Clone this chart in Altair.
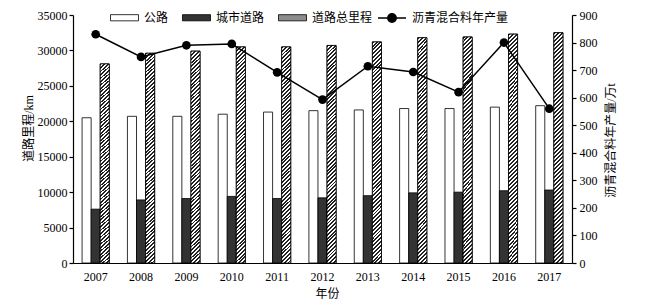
import altair as alt
import pandas as pd

years = [2007, 2008, 2009, 2010, 2011, 2012, 2013, 2014, 2015, 2016, 2017]
series = ["公路", "城市道路", "道路总里程"]
highway = [20500, 20700, 20700, 21000, 21300, 21500, 21600, 21800, 21800, 22000, 22200]
urban = [7600, 8900, 9100, 9400, 9100, 9200, 9500, 9900, 10000, 10200, 10300]
total = [28100, 29600, 29900, 30500, 30500, 30700, 31200, 31800, 31900, 32300, 32500]
line_name = "沥青混合料年产量"
asphalt = [830, 748, 790, 795, 692, 593, 714, 693, 620, 800, 560]

rows = []
for name, vals in zip(series, [highway, urban, total]):
    for y, v in zip(years, vals):
        rows.append({"year": y, "series": name, "value": v})
bars_df = pd.DataFrame(rows)
line_df = pd.DataFrame({"year": years, "value": asphalt, "name": line_name})

FONT = "Liberation Serif, Noto Sans CJK SC"

# diagonal hatch as a striped linear gradient (style only)
n_stripes = 60
stops = []
for i in range(n_stripes):
    a = i / n_stripes
    b = (i + 0.5) / n_stripes
    c = (i + 1) / n_stripes
    stops += [
        {"offset": a, "color": "#222222"},
        {"offset": b, "color": "#222222"},
        {"offset": b, "color": "#ffffff"},
        {"offset": c, "color": "#ffffff"},
    ]
hatch_fill = {"gradient": "linear", "x1": 0, "y1": 0, "x2": 0.043, "y2": 1.04, "stops": stops}

x_enc = alt.X(
    "year:O",
    scale=alt.Scale(paddingInner=0.4, paddingOuter=0.2),
    axis=alt.Axis(title="年份", labelAngle=0, ticks=False, tickSize=0, labelPadding=8,
                  titleX=254, titleY=30, titleBaseline="middle", titleAlign="center"),
)
xoff = alt.XOffset("series:N", scale=alt.Scale(domain=series), sort=series)
y_left = alt.Y(
    "value:Q",
    scale=alt.Scale(domain=[0, 35000], nice=False),
    axis=alt.Axis(values=list(range(0, 35001, 5000)), format="d", title="道路里程/km",
                  titleX=-45, titleY=113, titleAngle=270, titleBaseline="middle", titleAlign="center"),
)

bars = alt.Chart(bars_df).mark_bar(stroke="black", strokeWidth=0.8).encode(
    x=x_enc,
    xOffset=xoff,
    y=y_left,
    fill=alt.Fill(
        "series:N",
        scale=alt.Scale(domain=series, range=["#ffffff", "#333333", "#8c8c8c"]),
        legend=alt.Legend(orient="none", legendX=37, legendY=-12, direction="horizontal", title=None,
                          symbolType="M-1,-0.22H1V0.22H-1Z", symbolSize=784,
                          symbolStrokeColor="black", symbolStrokeWidth=0.8,
                          columnPadding=11, labelOffset=5, labelFontSize=12, labelFont=FONT,
                          labelColor="black"),
    ),
)

hatch = alt.Chart(bars_df).transform_filter(alt.datum.series == "道路总里程").mark_bar(
    stroke="black", strokeWidth=0.8, fill=hatch_fill
).encode(x=x_enc, xOffset=xoff, y=y_left)

left = alt.layer(bars, hatch)

y_right = alt.Y(
    "value:Q",
    scale=alt.Scale(domain=[0, 900], nice=False),
    axis=alt.Axis(orient="right", values=list(range(0, 901, 100)), title="沥青混合料年产量/万t",
                  titleX=38, titleY=125, titleAngle=270, titleBaseline="middle", titleAlign="center",
                  labelPadding=3),
)

line = alt.Chart(line_df).mark_line(color="black", strokeWidth=1.5).encode(x=x_enc, y=y_right)
points = alt.Chart(line_df).mark_point(filled=True, size=75, opacity=1).encode(
    x=x_enc,
    y=y_right,
    color=alt.Color(
        "name:N",
        scale=alt.Scale(domain=[line_name], range=["black"]),
        legend=alt.Legend(orient="none", legendX=304, legendY=-12, direction="horizontal", title=None,
                          symbolType="M-1,0H1M0.3,0A0.3,0.3,0,1,1,-0.3,0A0.3,0.3,0,1,1,0.3,0Z",
                          symbolSize=784, symbolFillColor="black", symbolStrokeColor="black",
                          symbolStrokeWidth=1.5, labelOffset=5, labelFontSize=12, labelFont=FONT,
                          labelColor="black"),
    ),
)
right = alt.layer(line, points)

chart = (
    alt.layer(left, right)
    .resolve_scale(y="independent")
    .properties(
        width=499,
        height=248,
        autosize=alt.AutoSizeParams(type="none"),
        padding={"left": 73, "top": 15, "right": 83, "bottom": 41},
        background="white",
    )
    .configure_view(stroke=None)
    .configure_axis(
        grid=False,
        domainColor="black",
        domainWidth=1.2,
        tickColor="black",
        tickSize=4,
        tickWidth=1.2,
        labelPadding=2,
        labelFont=FONT,
        labelFontSize=12,
        labelColor="black",
        titleFont=FONT,
        titleFontSize=12,
        titleFontWeight="normal",
        titleColor="black",
    )
)

chart.save("out.html", embed_options={"renderer": "svg", "actions": False})
